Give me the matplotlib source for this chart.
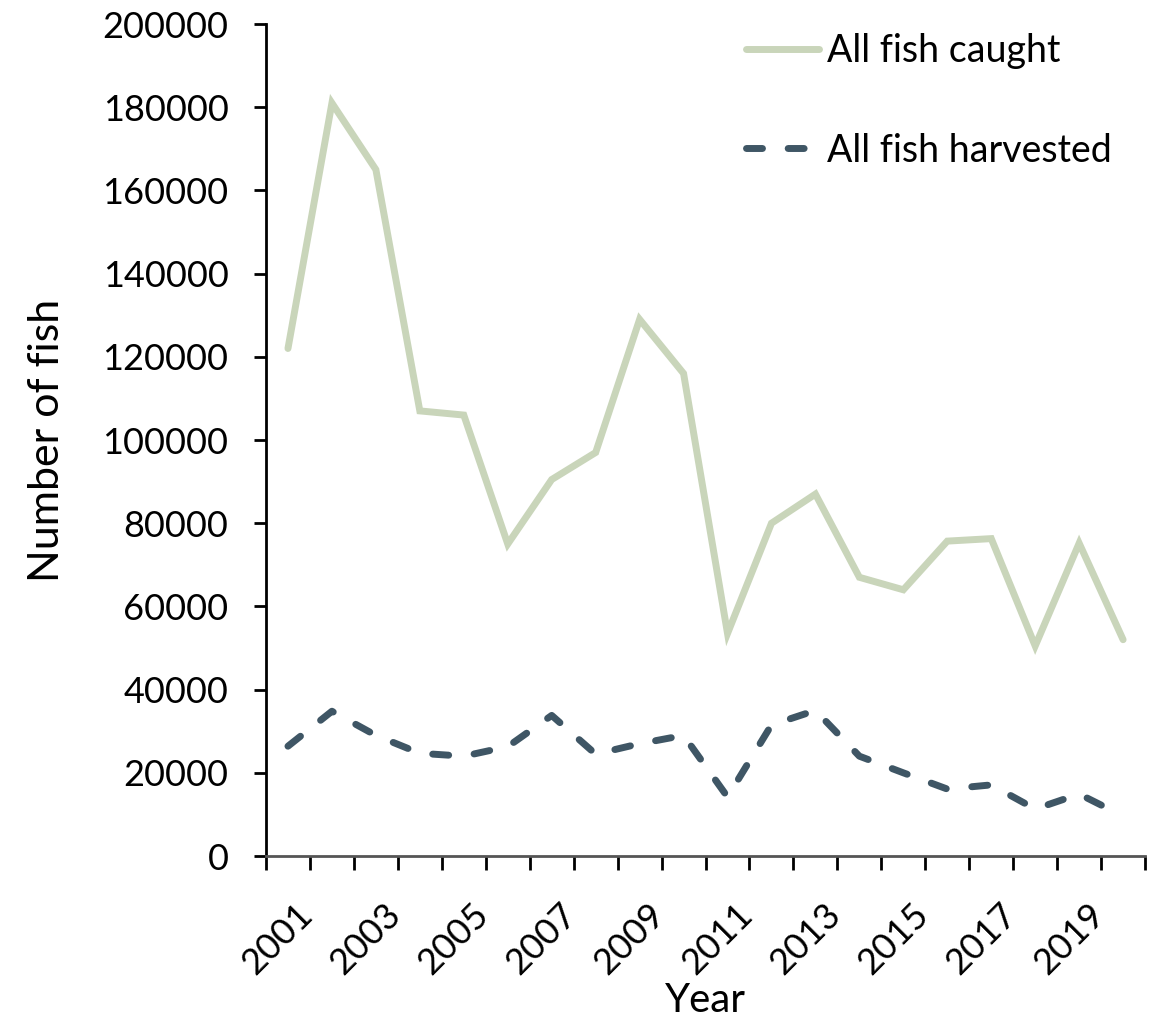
import matplotlib
matplotlib.use("Agg")
import matplotlib.pyplot as plt
import matplotlib.transforms as mtransforms
import numpy as np

# data
years = list(range(2001, 2021))
caught = [122000, 181000, 165000, 107000, 106000, 75000, 90500, 97000, 129000, 116000,
          53500, 80000, 87000, 67000, 64000, 75700, 76300, 50500, 75200, 52000]
harvested = [26400, 34800, 29000, 24700, 24000, 26300, 33800, 24500, 27000, 29000,
             14200, 31500, 35000, 24000, 20000, 16100, 17100, 11300, 14900, 9600]

plt.rcParams['font.family'] = ['Lato', 'DejaVu Sans']

fig = plt.figure(figsize=(11.59, 10.22), dpi=100)
ax = fig.add_axes([0.2295, 0.1624, 0.7585, 0.8141])

x = np.arange(len(years))
ax.plot(x, caught, color='#C9D5BA', lw=5, solid_joinstyle='miter',
        solid_capstyle='round', label='All fish caught')
ax.plot(x, harvested, color='#3F5665', lw=5, dashes=(2.3, 3.7),
        dash_capstyle='round', label='All fish harvested')

ax.set_xlim(-0.5, len(years) - 0.5)
ax.set_ylim(0, 200000)
ax.set_yticks(np.arange(0, 200001, 20000))
ax.tick_params(axis='y', labelsize=26, length=9, width=2, direction='out', pad=18)

# category labels every other year, tick marks between categories
ax.set_xticks(x[::2])
ax.set_xticklabels([str(y) for y in years[::2]], rotation=45, ha='right',
                   rotation_mode='anchor', fontsize=26)
ax.tick_params(axis='x', which='major', length=0, pad=30)
shift = mtransforms.ScaledTranslation(8 / 100, 0, fig.dpi_scale_trans)
for lab in ax.get_xticklabels():
    lab.set_transform(lab.get_transform() + shift)
ax.set_xticks(np.arange(-0.5, len(years), 1), minor=True)
ax.tick_params(axis='x', which='minor', length=10, width=2, direction='out')

for s in ['top', 'right']:
    ax.spines[s].set_visible(False)
ax.spines['left'].set_linewidth(2)
ax.spines['bottom'].set_linewidth(2)
ax.spines['bottom'].set_color('#555555')

ax.set_ylabel('Number of fish', fontsize=31, labelpad=26)
ax.set_xlabel('Year', fontsize=29, labelpad=1)

ax.legend(loc='upper right', bbox_to_anchor=(1.0, 1.03), frameon=False,
          fontsize=27, handlelength=1.95, labelspacing=1.7, handletextpad=0.2)

fig.savefig('out.png', dpi=100)
